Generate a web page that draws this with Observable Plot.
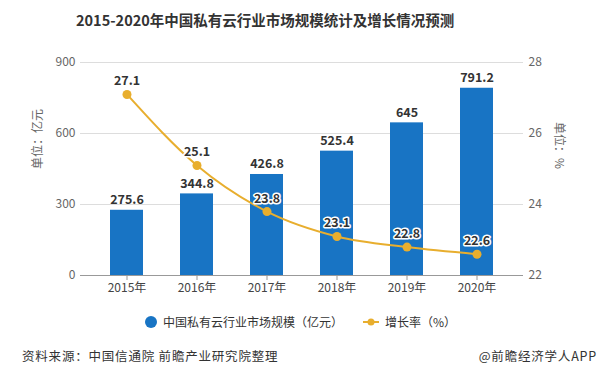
<!DOCTYPE html>
<html><head><meta charset="utf-8">
<script src="https://cdn.jsdelivr.net/npm/d3@7"></script>
<script src="https://cdn.jsdelivr.net/npm/@observablehq/plot@0.6"></script>
<style>
body{margin:0;background:#fff;font-family:"Noto Sans CJK SC","Noto Sans",sans-serif;width:599px;height:366px;overflow:hidden;position:relative}
#title{position:absolute;left:76px;top:9px;font-size:14.5px;font-weight:bold;color:#333;white-space:nowrap}
#chart{position:absolute;left:0;top:40px}
#legend{position:absolute;top:313px;left:143px;font-size:12px;color:#333;display:flex;align-items:center;white-space:nowrap}
.foot{position:absolute;top:346px;font-size:12.5px;color:#333;letter-spacing:0.8px;white-space:nowrap}
</style></head>
<body>
<div id="title">2015-2020年中国私有云行业市场规模统计及增长情况预测</div>
<div id="chart"></div>
<div id="legend">
<svg width="16" height="16"><circle cx="8" cy="8" r="6" fill="#1874C4"/></svg>
<span style="margin-left:4px">中国私有云行业市场规模（亿元）</span>
<svg width="20" height="16" style="margin-left:18px"><line x1="2" x2="18" y1="8" y2="8" stroke="#E8AE2E" stroke-width="2"/><circle cx="10" cy="8" r="3.5" fill="#E8AE2E"/></svg>
<span style="margin-left:4px">增长率（%）</span>
</div>
<div class="foot" style="left:22px">资料来源：中国信通院 前瞻产业研究院整理</div>
<div class="foot" style="right:2px">@前瞻经济学人APP</div>
<script>
const years = ["2015年","2016年","2017年","2018年","2019年","2020年"];
const marketSize = [275.6, 344.8, 426.8, 525.4, 645, 791.2];
const growthRate = [27.1, 25.1, 23.8, 23.1, 22.8, 22.6];
const leftTicks = [0, 300, 600, 900];
const rightTicks = [22, 24, 26, 28];

const rMin = 22, rMax = 28, lMax = 900;
const toLeft = v => (v - rMin) / (rMax - rMin) * lMax;
const data = years.map((y, i) => ({year: y, size: marketSize[i], rate: growthRate[i], rateY: toLeft(growthRate[i])}));

const barColor = "#1874C4", lineColor = "#E8AE2E";
const plot = Plot.plot({
  width: 599, height: 270,
  marginLeft: 80, marginRight: 76, marginTop: 22, marginBottom: 35,
  style: {fontFamily: '"Noto Sans CJK SC","Noto Sans",sans-serif', fontSize: "12px", color: "#555", background: "transparent"},
  x: {domain: years, paddingInner: 0.535, paddingOuter: 0.3875, label: null},
  y: {domain: [0, lMax], label: null},
  marks: [
    Plot.ruleY(leftTicks.slice(1), {stroke: "#ddd", strokeWidth: 1}),
    Plot.barY(data, {x: "year", y: "size", fill: barColor}),
    Plot.ruleY([0], {stroke: "#999"}),
    Plot.axisX({tickSize: 5, tickPadding: 3, stroke: "#999", fontSize: 12, fill: "#444"}),
    Plot.axisY({ticks: leftTicks, tickSize: 0, tickPadding: 5, fontSize: 12, fill: "#666"}),
    Plot.axisY({anchor: "right", ticks: leftTicks, tickSize: 0, tickPadding: 5, fontSize: 12, fill: "#666",
      tickFormat: d => rightTicks[leftTicks.indexOf(d)]}),
    Plot.text(data, {x: "year", y: "size", text: d => String(d.size), dy: -10, fontSize: 12.5, fontWeight: "bold", fill: "#333"}),
    Plot.line(data, {x: "year", y: "rateY", stroke: lineColor, strokeWidth: 2, curve: "monotone-x"}),
    Plot.dot(data, {x: "year", y: "rateY", r: 4.5, fill: lineColor}),
    Plot.text(data, {x: "year", y: "rateY", text: d => d.rate.toFixed(1), dy: -13, fontSize: 12.5, fontWeight: "bold", fill: "#333", stroke: "white", strokeWidth: 3}),
    Plot.text(["单位：亿元"], {frameAnchor: "left", dx: -42, rotate: -90, fontSize: 12, fill: "#666"}),
    Plot.text(["单位：%"], {frameAnchor: "right", dx: 35, rotate: 90, fontSize: 12, fill: "#666"})
  ]
});
document.getElementById("chart").appendChild(plot);
</script>
</body></html>
